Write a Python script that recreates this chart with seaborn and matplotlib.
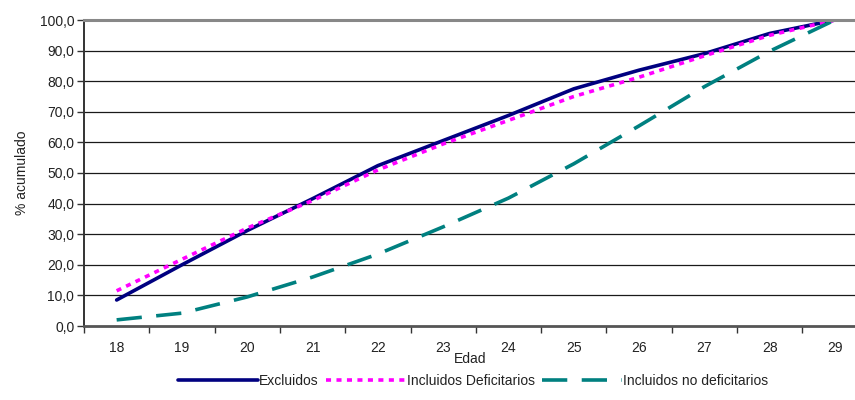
import matplotlib
matplotlib.use("Agg")
import matplotlib.pyplot as plt
import seaborn as sns
import pandas as pd
from matplotlib.ticker import FuncFormatter, FixedLocator

sns.set_theme(style="white")
plt.rcParams['font.family'] = ['Liberation Sans', 'DejaVu Sans']

edades = [18, 19, 20, 21, 22, 23, 24, 25, 26, 27, 28, 29]
excluidos = [8.5, 20.0, 31.2, 41.6, 52.4, 60.6, 68.8, 77.5, 83.6, 89.0, 95.6, 100.0]
incluidos_def = [11.5, 21.8, 32.0, 41.0, 51.0, 59.5, 67.2, 75.0, 81.3, 88.3, 95.0, 100.0]
incluidos_no_def = [2.0, 4.2, 9.5, 16.0, 23.5, 32.4, 41.8, 53.0, 65.4, 78.2, 89.8, 100.0]
series = ["Excluidos", "Incluidos Deficitarios", "Incluidos no deficitarios"]

df = pd.DataFrame({
    "Edad": edades * 3,
    "valor": excluidos + incluidos_def + incluidos_no_def,
    "serie": [series[0]] * 12 + [series[1]] * 12 + [series[2]] * 12,
})

colores = {series[0]: "#000080", series[1]: "#FF00FF", series[2]: "#008080"}
trazos = {series[0]: "", series[1]: (1.4, 1.5), series[2]: (7, 4)}

FS = 10
TXT = "#222222"

fig = plt.figure(figsize=(8.55, 4.0), dpi=100)
ax = fig.add_axes([84 / 855, 74 / 400, 771 / 855, 306 / 400])

sns.lineplot(data=df, x="Edad", y="valor", hue="serie", style="serie",
             palette=colores, dashes=trazos, linewidth=2.6, ax=ax,
             legend=True)

ax.set_ylim(0, 100)
ax.set_xlim(17.5, 17.5 + 771 / 65.3)

# horizontal grid every 10
ax.set_yticks(range(0, 101, 10))
ax.yaxis.set_major_formatter(FuncFormatter(lambda v, p: f"{v:.1f}".replace(".", ",")))
for v in range(10, 100, 10):
    ax.axhline(v, color="#1a1a1a", lw=0.9, zorder=0)

# category axis: ticks on boundaries, labels centred
ax.xaxis.set_major_locator(FixedLocator([e - 0.5 for e in edades] + [29.5]))
ax.xaxis.set_major_formatter(FuncFormatter(lambda v, p: ""))
ax.xaxis.set_minor_locator(FixedLocator(edades))
ax.xaxis.set_minor_formatter(FuncFormatter(lambda v, p: f"{int(round(v))}"))
ax.tick_params(axis="x", which="major", direction="out", length=5, width=1,
               color="#333333", bottom=True)
ax.tick_params(axis="x", which="minor", length=0, pad=11, labelsize=FS,
               labelcolor=TXT, bottom=True)
ax.tick_params(axis="y", which="major", direction="out", length=5, width=1,
               color="#333333", left=True, labelsize=FS, labelcolor=TXT, pad=2)

ax.spines["right"].set_visible(False)
ax.spines["top"].set_color("#888888")
ax.spines["top"].set_linewidth(2.2)
ax.spines["bottom"].set_color("#555555")
ax.spines["bottom"].set_linewidth(2.0)
ax.spines["left"].set_color("#333333")
ax.spines["left"].set_linewidth(1.4)

ax.set_ylabel("% acumulado", fontsize=FS, color=TXT, labelpad=8)
ax.set_xlabel("")
fig.text(470 / 855, 1 - 359 / 400, "Edad", fontsize=FS, color=TXT,
         ha="center", va="center")

handles, labels = ax.get_legend_handles_labels()
ax.legend(handles, labels, loc="center", bbox_to_anchor=(473 / 855, 1 - 381 / 400),
          bbox_transform=fig.transFigure, ncol=3, frameon=False, fontsize=FS,
          handlelength=5.8, handletextpad=0.05, columnspacing=0.5,
          labelcolor=TXT)

fig.savefig("out.png", dpi=100)
